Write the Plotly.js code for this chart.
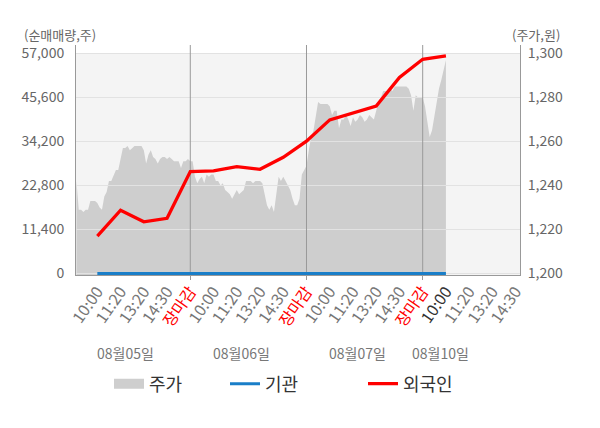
<!DOCTYPE html>
<html>
<head>
<meta charset="utf-8">
<script src="https://cdn.plot.ly/plotly-3.0.1.min.js"></script>
<style>
html,body{margin:0;padding:0;background:#fff;}
#chart{width:600px;height:428px;}
</style>
</head>
<body>
<div id="chart"></div>
<script>
// ---------- data ----------
const dayLabels = ['08월05일', '08월06일', '08월07일', '08월10일'];
const timeLabels = ['10:00', '11:20', '13:20', '14:30', '장마감'];
const labelsPerDay = [5, 5, 5, 4];

// 외국인 순매매량 (cumulative, shares) at each time slot
const foreign = [9700, 16400, 13400, 14300, 26400,
                 26600, 27700, 27000, 30100, 34300,
                 39800, 41500, 43400, 50800, 55500,
                 56400];
// 기관 순매매량
const institution = [0, 0, 0, 0, 0, 0, 0, 0, 0, 0, 0, 0, 0, 0, 0, 0];

// 주가 (won), intraday samples, 10 per time slot
const price = [
  // 08월05일
  1242, 1229, 1229, 1228, 1229, 1229, 1233, 1233, 1233, 1232,
  1230, 1229, 1235, 1237, 1242, 1242, 1245, 1247, 1247, 1252,
  1257, 1257, 1258, 1256, 1257, 1258, 1258, 1258, 1258, 1256,
  1250, 1254, 1256, 1253, 1252, 1250, 1252, 1253, 1253, 1252,
  1253, 1252, 1251, 1251, 1251, 1248, 1251, 1251, 1252, 1251,
  // 08월06일
  1251, 1244, 1241, 1243, 1244, 1241, 1245, 1244, 1245, 1245,
  1242, 1242, 1240, 1241, 1238, 1237, 1236, 1234, 1236, 1238,
  1236, 1237, 1238, 1242, 1242, 1242, 1241, 1242, 1242, 1242,
  1241, 1236, 1231, 1229, 1231, 1228, 1236, 1244, 1242, 1244,
  1242, 1240, 1238, 1234, 1231, 1231, 1234, 1245, 1247, 1249,
  // 08월07일
  1256, 1262, 1265, 1271, 1278, 1277, 1277, 1277, 1277, 1276,
  1272, 1274, 1274, 1266, 1270, 1270, 1272, 1270, 1267, 1271,
  1269, 1270, 1272, 1271, 1269, 1270, 1272, 1271, 1270, 1274,
  1278, 1280, 1283, 1283, 1283, 1284, 1283, 1285, 1285, 1285,
  1285, 1285, 1285, 1284, 1281, 1274, 1281, 1280, 1280, 1280,
  // 08월10일
  1276, 1269, 1262, 1265, 1272, 1277, 1284, 1288, 1293, 1297
];

const leftTicks = [0, 11400, 22800, 34200, 45600, 57000];
const rightTicks = [1200, 1220, 1240, 1260, 1280, 1300];

// ---------- derived ----------
const SLOTS = 5;             // time slots per day
const SAMPLES = 10;          // price samples per slot
const priceX = price.map((_, i) => (i + 1) / SAMPLES);
const lineX = foreign.map((_, i) => i + 1);

const tickvals = [], ticktext = [];
labelsPerDay.forEach((n, d) => {
  for (let j = 0; j < n; j++) {
    tickvals.push(d * SLOTS + j + 1);
    let t = timeLabels[j];
    if (t === '장마감') t = '<span style="color:#ff0000">' + t + '</span>';
    else if (d === dayLabels.length - 1 && j === 0) t = '<span style="color:#333333">' + t + '</span>';
    ticktext.push(t);
  }
});
const boundaries = [];
for (let d = 1; d < dayLabels.length; d++) boundaries.push(d * SLOTS);

const xRange = [0.082, 19.187];
const pRange = [1199.318, 1303.864];
const volPerWon = leftTicks[1] / (rightTicks[1] - rightTicks[0]);
const vRange = pRange.map(p => (p - rightTicks[0]) * volPerWon);

// gridline helper traces (drawn above the price area)
const hx = [], hy = [];
rightTicks.forEach(t => { hx.push(xRange[0], xRange[1], null); hy.push(t, t, null); });
const vx = [], vy = [];
boundaries.forEach(b => { vx.push(b, b, null); vy.push(pRange[0], pRange[1], null); });

const FONT = '"Noto Sans CJK KR", "Noto Sans", sans-serif';

const traces = [
  {x: priceX, y: price, xaxis: 'x', yaxis: 'y', type: 'scatter', mode: 'lines',
   fill: 'tozeroy', fillcolor: '#cecece', line: {width: 0, color: '#cecece'},
   name: '주가', showlegend: false, hoverinfo: 'skip'},
  {x: hx, y: hy, xaxis: 'x', yaxis: 'y', mode: 'lines', line: {color: '#e2e2e2', width: 1},
   showlegend: false, hoverinfo: 'skip'},
  {x: vx, y: vy, xaxis: 'x', yaxis: 'y', mode: 'lines', line: {color: '#999999', width: 1},
   showlegend: false, hoverinfo: 'skip'},
  {x: [null], y: [null], xaxis: 'x', yaxis: 'y', mode: 'lines',
   line: {color: '#cecece', width: 14}, name: '주가', legend: 'legend', hoverinfo: 'skip'},
  {x: lineX, y: institution, xaxis: 'x2', yaxis: 'y2', mode: 'lines',
   line: {color: '#1a7ec8', width: 3}, name: '기관', legend: 'legend2'},
  {x: lineX, y: foreign, xaxis: 'x2', yaxis: 'y2', mode: 'lines',
   line: {color: '#ff0000', width: 3.3}, name: '외국인', legend: 'legend3'}
];

const legendBase = {orientation: 'h', y: -0.474, yanchor: 'middle', xanchor: 'left',
  font: {family: FONT, size: 18, color: '#333'}, bgcolor: 'rgba(0,0,0,0)', borderwidth: 0};

const annotations = [
  {text: '(순매매량,주)', xref: 'paper', yref: 'paper', x: -0.1216, y: 1.0435,
   xanchor: 'left', yanchor: 'middle', showarrow: false, font: {family: FONT, size: 13, color: '#666'}},
  {text: '(주가,원)', xref: 'paper', yref: 'paper', x: 1.0946, y: 1.0435,
   xanchor: 'right', yanchor: 'middle', showarrow: false, font: {family: FONT, size: 13, color: '#666'}}
];
dayLabels.forEach((lab, i) => {
  annotations.push({text: lab, xref: 'x', yref: 'paper',
    x: i < dayLabels.length - 1 ? i * SLOTS + 2.2 : i * SLOTS + 0.75,
    y: -0.339, xanchor: 'center', yanchor: 'middle', showarrow: false,
    font: {family: FONT, size: 14, color: '#777'}});
});

const layout = {
  width: 600, height: 428,
  margin: {l: 76, r: 80, t: 45, b: 153, pad: 0},
  paper_bgcolor: '#ffffff', plot_bgcolor: '#ffffff',
  font: {family: FONT, color: '#666'},
  hovermode: false,
  xaxis: {range: xRange, tickvals: tickvals, ticktext: ticktext, tickangle: -55,
    tickfont: {family: FONT, size: 16, color: '#777'}, showgrid: false, zeroline: false,
    showline: true, linecolor: '#999', ticks: '', fixedrange: true},
  xaxis2: {range: xRange, overlaying: 'x', tickvals: boundaries, ticks: 'outside', ticklen: 4,
    tickcolor: '#999', showticklabels: false, showgrid: false, zeroline: false, showline: false},
  yaxis: {range: pRange, side: 'right', tickvals: rightTicks, tickformat: ',d',
    tickfont: {family: FONT, size: 14, color: '#666'}, showgrid: false, zeroline: false,
    showline: true, linecolor: '#999', ticks: '', ticklabelstandoff: 4},
  yaxis2: {range: vRange, overlaying: 'y', side: 'left', tickvals: leftTicks, tickformat: ',d',
    tickfont: {family: FONT, size: 14, color: '#666'}, showgrid: false, zeroline: false,
    showline: true, linecolor: '#999', ticks: '', ticklabelstandoff: 8},
  shapes: [{type: 'rect', xref: 'paper', yref: 'y', x0: 0, x1: 1,
    y0: pRange[0], y1: rightTicks[rightTicks.length - 1],
    fillcolor: '#f4f4f4', line: {width: 0}, layer: 'below'}],
  legend: Object.assign({}, legendBase, {x: 0.0743}),
  legend2: Object.assign({}, legendBase, {x: 0.3356}),
  legend3: Object.assign({}, legendBase, {x: 0.6464}),
  annotations: annotations
};

Plotly.newPlot('chart', traces, layout, {displayModeBar: false, staticPlot: true});
</script>
</body>
</html>
